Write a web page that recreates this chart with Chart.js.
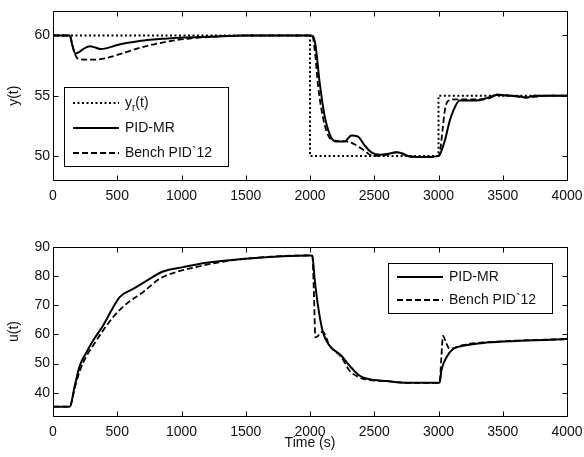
<!DOCTYPE html>
<html>
<head>
<meta charset="utf-8">
<script src="https://cdn.jsdelivr.net/npm/chart.js@4.4.1/dist/chart.umd.min.js"></script>
<style>
  html, body { margin: 0; padding: 0; background: #fff; }
  #wrap { position: relative; width: 584px; height: 457px; background: #fff; }
  canvas { position: absolute; left: 0; }
  #chartY { top: 0; }
  #chartU { top: 215px; }
</style>
</head>
<body>
<div id="wrap">
  <canvas id="chartY" width="584" height="215"></canvas>
  <canvas id="chartU" width="584" height="242"></canvas>
</div>
<script>
// time axis shared by both panels
const timeTicks = [0, 500, 1000, 1500, 2000, 2500, 3000, 3500, 4000];
const outputTicks = [50, 55, 60];
const inputTicks = [40, 50, 60, 70, 80, 90];

// set point y_r(t)
const refT = [0, 2000, 2000, 3000, 3000, 4000];
const refY = [60, 60, 50, 50, 55, 55];

// output y(t), PID-MR
const mrT = [0, 130, 150, 175, 200, 240, 286, 330, 370, 420, 480, 571, 650, 752, 850, 1010, 1220, 1500, 2000,
  2023, 2044, 2075, 2114, 2166, 2205, 2270, 2322, 2374, 2426, 2478, 2542, 2600, 2672, 2720, 2776, 2906, 2996,
  3010, 3050, 3087, 3113, 3165, 3230, 3295, 3373, 3450, 3554, 3620, 3684, 3750, 3850, 4000];
const mrY = [60, 60, 59.2, 58.5, 58.6, 58.9, 59.1, 59.0, 58.87, 58.95, 59.15, 59.37, 59.5, 59.64, 59.72, 59.83, 59.9, 60, 60,
  59.95, 59.1, 56.1, 53.3, 51.5, 51.2, 51.2, 51.7, 51.6, 50.86, 50.3, 50.1, 50.15, 50.3, 50.2, 49.95, 49.9, 50.0,
  50.1, 51.3, 52.9, 53.7, 54.6, 54.6, 54.6, 54.8, 55.05, 55.0, 54.95, 54.85, 55.0, 55.0, 55.0];

// output y(t), Bench PID`12
const benchT = [0, 130, 160, 190, 250, 320, 380, 441, 520, 621, 720, 830, 950, 1064, 1250, 1500, 2000,
  2020, 2040, 2062, 2101, 2153, 2210, 2283, 2340, 2387, 2430, 2465, 2520, 2600, 2672, 2776, 2906, 2996,
  3009, 3030, 3048, 3074, 3139, 3250, 3350, 3420, 3450, 3554, 3684, 3850, 4000];
const benchY = [60, 60, 58.8, 58.1, 58.0, 58.0, 58.05, 58.2, 58.45, 58.8, 59.1, 59.37, 59.6, 59.75, 59.9, 60, 60,
  59.9, 58.5, 55.9, 53.2, 51.5, 51.25, 51.2, 51.0, 50.7, 50.4, 50.1, 50.0, 50.1, 50.3, 49.95, 49.9, 50.0,
  50.2, 52.0, 53.7, 54.56, 54.7, 54.7, 54.7, 54.9, 55.1, 55.0, 54.85, 55.0, 55.0];

// control signal u(t), PID-MR
const mrUT = [0, 130, 169, 208, 260, 311, 389, 454, 519, 623, 752, 856, 1012, 1194, 1500, 2000,
  2018, 2036, 2062, 2101, 2153, 2244, 2309, 2387, 2465, 2594, 2750, 2996,
  3009, 3022, 3061, 3113, 3191, 3373, 3632, 4000];
const mrU = [35.2, 35.2, 42.3, 49.2, 53.8, 57.8, 63, 68.2, 72.8, 75.6, 79.1, 81.6, 83.1, 84.6, 86, 87.1,
  87, 79.1, 69.9, 60.7, 56.1, 52.7, 49.2, 45.8, 44.6, 44.0, 43.4, 43.4,
  43.4, 47.5, 52.1, 55, 56.1, 57.2, 57.8, 58.4];

// control signal u(t), Bench PID`12
const benchUT = [0, 130, 169, 208, 260, 311, 389, 467, 571, 700, 830, 960, 1090, 1300, 1500, 2000,
  2018, 2030, 2042, 2060, 2081, 2101, 2153, 2244, 2309, 2387, 2465, 2594, 2750, 2996,
  3009, 3022, 3035, 3060, 3087, 3113, 3191, 3243, 3373, 3632, 4000];
const benchU = [35.2, 35.2, 41.5, 47.5, 52.5, 56.1, 61.3, 65.9, 70.5, 74.5, 79.1, 81.4, 82.9, 84.8, 86, 87.1,
  87, 75, 59, 59.3, 60.7, 60.8, 56.1, 52.2, 47.5, 45.2, 44.3, 44.0, 43.4, 43.4,
  43.4, 52, 59.5, 57, 55, 55.2, 56.3, 56.8, 57.3, 57.9, 58.4];

const FONT = { family: '"Liberation Sans", Arial, sans-serif', size: 14 };
const INK = '#111';

function points(ts, vs) {
  return ts.map((t, i) => ({ x: t, y: vs[i] }));
}

function series(label, ts, vs, dash, width, smooth) {
  return {
    label,
    data: points(ts, vs),
    borderColor: '#000',
    borderWidth: width,
    borderDash: dash,
    pointRadius: 0,
    fill: false,
    cubicInterpolationMode: smooth ? 'monotone' : 'default',
    tension: 0
  };
}

// box round the axes with inward ticks on all four sides
const framePlugin = {
  id: 'frame',
  afterDatasetsDraw(chart) {
    const { ctx, chartArea: a, scales } = chart;
    const len = 5;
    const L = Math.round(a.left) + 0.5, R = Math.round(a.right) + 0.5;
    const T = Math.round(a.top) + 0.5, B = Math.round(a.bottom) + 0.5;
    ctx.save();
    ctx.strokeStyle = '#000';
    ctx.lineWidth = 1;
    ctx.setLineDash([]);
    ctx.beginPath();
    scales.x.ticks.forEach(t => {
      const px = Math.round(scales.x.getPixelForValue(t.value)) + 0.5;
      ctx.moveTo(px, B); ctx.lineTo(px, B - len);
      ctx.moveTo(px, T); ctx.lineTo(px, T + len);
    });
    scales.y.ticks.forEach(t => {
      const py = Math.round(scales.y.getPixelForValue(t.value)) + 0.5;
      ctx.moveTo(L, py); ctx.lineTo(L + len, py);
      ctx.moveTo(R, py); ctx.lineTo(R - len, py);
    });
    ctx.rect(L, T, R - L, B - T);
    ctx.stroke();
    ctx.restore();
  }
};

// label text, "y_r(t)" gets a subscript r
function drawLabel(ctx, text, x, y) {
  ctx.fillStyle = INK;
  ctx.textBaseline = 'middle';
  ctx.textAlign = 'left';
  const big = FONT.size + 'px ' + FONT.family;
  const small = '10px ' + FONT.family;
  const m = text.match(/^(.*)_(.)(.*)$/);
  ctx.font = big;
  if (!m) { ctx.fillText(text, x, y); return; }
  ctx.fillText(m[1], x, y);
  x += ctx.measureText(m[1]).width;
  ctx.font = small;
  ctx.fillText(m[2], x, y + 5);
  x += ctx.measureText(m[2]).width;
  ctx.font = big;
  ctx.fillText(m[3], x, y);
}

const boxLegendPlugin = {
  id: 'boxLegend',
  afterDraw(chart, args, o) {
    const { ctx } = chart;
    ctx.save();
    ctx.fillStyle = '#fff';
    ctx.fillRect(o.x, o.y, o.w, o.h);
    ctx.strokeStyle = '#000';
    ctx.lineWidth = 1;
    ctx.strokeRect(o.x + 0.5, o.y + 0.5, o.w, o.h);
    chart.data.datasets.forEach((ds, i) => {
      const ry = o.rowTop + i * o.rowStep;
      ctx.beginPath();
      ctx.setLineDash(ds.borderDash || []);
      ctx.lineWidth = ds.borderWidth;
      ctx.strokeStyle = ds.borderColor;
      ctx.moveTo(o.x + 9, ry);
      ctx.lineTo(o.x + 55, ry);
      ctx.stroke();
      ctx.setLineDash([]);
      drawLabel(ctx, ds.label, o.x + 61, ry);
    });
    ctx.restore();
  }
};

function buildScales(yTicks, yMin, yMax, yTitle, xTitle, xHeight) {
  return {
    x: {
      type: 'linear',
      min: 0,
      max: 4000,
      afterBuildTicks: s => { s.ticks = timeTicks.map(v => ({ value: v })); },
      afterFit: s => {
        s.height = xHeight;
        s.paddingLeft = 0;
        s.paddingRight = 0;
      },
      grid: { display: false, drawTicks: false },
      border: { display: false },
      ticks: { color: INK, font: FONT, padding: 8, maxRotation: 0, autoSkip: false, callback: v => String(v) },
      title: xTitle
        ? { display: true, text: xTitle, color: INK, font: FONT, padding: { top: 0, bottom: 5 } }
        : { display: false }
    },
    y: {
      min: yMin,
      max: yMax,
      afterBuildTicks: s => { s.ticks = yTicks.map(v => ({ value: v })); },
      afterFit: s => { s.width = 53; },
      grid: { display: false, drawTicks: false },
      border: { display: false },
      ticks: { color: INK, font: FONT, padding: 3, autoSkip: false, callback: v => String(v) },
      title: { display: true, text: yTitle, color: INK, font: FONT, padding: { top: 6, bottom: 0 } }
    }
  };
}

function buildConfig(datasets, scales, pad, legend) {
  return {
    type: 'line',
    data: { datasets },
    options: {
      responsive: false,
      animation: false,
      layout: { padding: pad },
      scales,
      plugins: {
        legend: { display: false },
        tooltip: { enabled: false },
        boxLegend: legend
      }
    },
    plugins: [framePlugin, boxLegendPlugin]
  };
}

new Chart(document.getElementById('chartY'), buildConfig(
  [
    series('y_r(t)', refT, refY, [2, 2.5], 2, false),
    series('PID-MR', mrT, mrY, [], 2, true),
    series('Bench PID`12', benchT, benchY, [6, 3], 1.8, true)
  ],
  buildScales(outputTicks, 48, 62, 'y(t)', null, 35),
  { left: 0, right: 17, top: 11, bottom: 0 },
  { x: 64, y: 87, w: 164, h: 79, rowTop: 103, rowStep: 25 }
));

new Chart(document.getElementById('chartU'), buildConfig(
  [
    series('PID-MR', mrUT, mrU, [], 2, true),
    series('Bench PID`12', benchUT, benchU, [6, 3], 1.8, true)
  ],
  buildScales(inputTicks, 32, 90, 'u(t)', 'Time (s)', 41),
  { left: 0, right: 17, top: 32, bottom: 0 },
  { x: 388, y: 48, w: 164, h: 50, rowTop: 62, rowStep: 23 }
));
</script>
</body>
</html>
